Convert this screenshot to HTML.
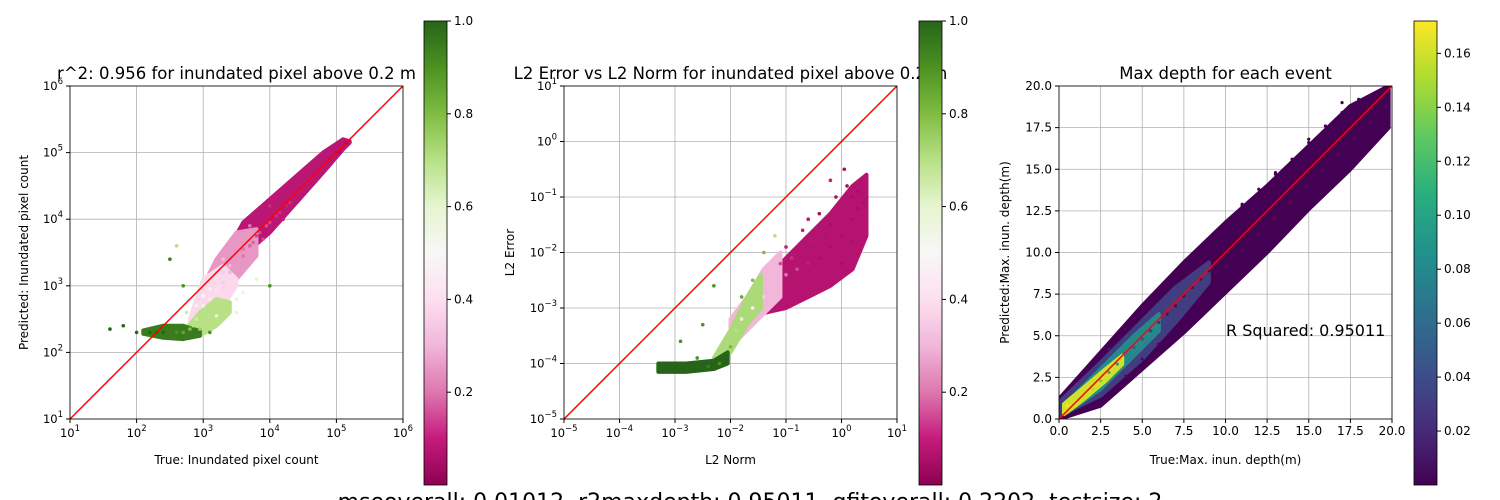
<!DOCTYPE html>
<html><head><meta charset="utf-8"><style>
html,body{margin:0;padding:0;background:#fff;}
svg{display:block;font-family:"DejaVu Sans","Liberation Sans",sans-serif;}
</style></head><body>
<svg id="fig" width="1500" height="500" viewBox="0 0 1500 500" xmlns="http://www.w3.org/2000/svg">
<defs>
<linearGradient id="piyg" x1="0" y1="1" x2="0" y2="0">
<stop offset="0" stop-color="#8e0152"/><stop offset="0.1" stop-color="#c51b7d"/><stop offset="0.2" stop-color="#de77ae"/><stop offset="0.3" stop-color="#f1b6da"/><stop offset="0.4" stop-color="#fde0ef"/><stop offset="0.5" stop-color="#f7f7f7"/><stop offset="0.6" stop-color="#e6f5d0"/><stop offset="0.7" stop-color="#b8e186"/><stop offset="0.8" stop-color="#7fbc41"/><stop offset="0.9" stop-color="#4d9221"/><stop offset="1" stop-color="#276419"/>
</linearGradient>
<linearGradient id="viridis" x1="0" y1="1" x2="0" y2="0">
<stop offset="0" stop-color="#440154"/><stop offset="0.125" stop-color="#472d7b"/><stop offset="0.25" stop-color="#3b528b"/><stop offset="0.375" stop-color="#2c728e"/><stop offset="0.5" stop-color="#21918c"/><stop offset="0.625" stop-color="#28ae80"/><stop offset="0.75" stop-color="#5ec962"/><stop offset="0.875" stop-color="#addc30"/><stop offset="1" stop-color="#fde725"/>
</linearGradient>
<clipPath id="c1"><rect x="70" y="86" width="333" height="333"/></clipPath>
<clipPath id="c2"><rect x="564" y="86" width="333" height="333"/></clipPath>
<clipPath id="c3"><rect x="1059" y="86" width="333" height="333"/></clipPath>
</defs>
<g id="root"></g>
<text x="750" y="509" font-size="22" text-anchor="middle">mseoverall: 0.01012, r2maxdepth: 0.95011, gfitoverall: 0.2202, testsize: 2</text>
</svg>
<script>
// Panel 1 scattered points: log10 true, log10 pred, color value
const p1x=[5.15,5.05,5.0,4.9,4.85,4.75,4.7,4.6,4.55,4.45,4.4,4.3,4.25,4.15,4.1,4.0,3.95,3.85,3.8,3.75,3.7,3.6,3.6,3.5,3.5,3.4,3.4,3.3,3.3,3.2,3.2,3.1,3.1,3.0,3.0,2.9,2.95,2.85,2.8,2.7,2.6,2.5,2.4,2.3,2.2,3.05,3.2,3.7,4.0,3.5,4.2,4.5,3.3,3.9,2.5,2.7,3.1,4.0,3.5,3.6,2.9,2.75,1.6,1.8,2.0,2.6,3.8,3.5];
const p1y=[5.15,5.0,5.0,4.92,4.85,4.72,4.7,4.6,4.55,4.42,4.4,4.25,4.2,4.1,4.05,3.95,3.9,3.8,3.75,3.65,3.6,3.55,3.45,3.4,3.3,3.3,3.2,3.2,3.05,3.1,2.95,2.95,2.8,2.85,2.7,2.5,2.35,2.4,2.35,2.3,2.3,2.3,2.3,2.3,2.3,2.4,2.55,3.9,4.2,3.7,4.0,4.4,3.4,3.7,3.4,3.0,2.3,3.0,2.8,2.9,2.7,2.6,2.35,2.4,2.3,3.6,3.1,2.6];
const p1c=[0.05,0.05,0.05,0.06,0.08,0.08,0.08,0.1,0.1,0.1,0.1,0.12,0.1,0.12,0.12,0.14,0.15,0.15,0.15,0.18,0.18,0.2,0.2,0.25,0.25,0.3,0.3,0.35,0.35,0.4,0.4,0.45,0.45,0.5,0.55,0.65,0.75,0.7,0.8,0.85,0.9,0.95,1,1,1,0.7,0.6,0.2,0.12,0.25,0.1,0.08,0.3,0.15,0.95,0.9,0.9,0.9,0.6,0.45,0.55,0.65,1,1,1,0.7,0.6,0.6];
// Panel 1 dense clouds: x samples, lower/upper y, color value
const b1x=[[3.3,3.6,4.0,4.4,4.8,5.1,5.2],[2.9,3.2,3.5,3.8],[2.8,3.0,3.3,3.5],[2.7,2.95,3.2,3.4],[2.1,2.4,2.7,2.95]];
const b1lo=[[3.35,3.45,3.8,4.25,4.7,5.05,5.15],[2.75,2.85,3.1,3.45],[2.45,2.5,2.7,3.0],[2.25,2.25,2.4,2.6],[2.28,2.22,2.2,2.25]];
const b1hi=[[3.4,3.95,4.3,4.65,5.0,5.2,5.17],[2.8,3.4,3.8,3.85],[2.5,3.1,3.3,3.1],[2.3,2.6,2.8,2.75],[2.33,2.4,2.4,2.32]];
const b1c=[0.08,0.25,0.38,0.7,0.95];
// Panel 2 scattered points
const p2x=[-3.3,-3.0,-2.7,-2.4,-2.2,-2.0,-1.9,-1.8,-1.6,-1.4,-1.2,-1.0,-0.8,-0.6,-0.4,-0.2,0.0,0.2,0.3,-1.0,-0.7,-0.4,-0.1,0.1,0.2,-0.2,-0.5,0.0,0.2,0.05,-0.2,-1.6,-1.4,-1.2,-1.8,-2.5,-2.3,-0.9,-0.3,0.3,0.4,-0.6,-1.1,-2.9,-2.6];
const p2y=[-4.1,-4.1,-4.1,-4.05,-4.0,-3.7,-3.4,-3.2,-3.0,-2.8,-2.6,-2.4,-2.3,-2.2,-2.1,-1.9,-1.7,-1.4,-1.2,-1.9,-1.6,-1.3,-1.0,-0.8,-1.0,-1.5,-1.8,-2.2,-1.8,-0.5,-0.7,-2.5,-2.0,-1.7,-2.8,-3.3,-2.6,-2.1,-1.7,-0.9,-1.1,-1.4,-2.2,-3.6,-3.9];
const p2c=[1,1,1,0.95,0.9,0.8,0.7,0.6,0.45,0.35,0.3,0.2,0.15,0.1,0.05,0.05,0.05,0.05,0.05,0.1,0.1,0.05,0.05,0.05,0.05,0.05,0.08,0.05,0.05,0.05,0.1,0.8,0.8,0.7,0.85,0.9,0.9,0.12,0.06,0.05,0.05,0.08,0.15,0.9,0.9];
// Panel 2 dense clouds
const b2x=[[-1.45,-1.0,-0.6,-0.2,0.2,0.45],[-2.0,-1.7,-1.4,-1.1],[-2.3,-2.0,-1.7,-1.45],[-3.3,-2.8,-2.3,-2.05]];
const b2lo=[[-3.1,-3.0,-2.8,-2.6,-2.3,-1.7],[-3.7,-3.4,-3.1,-2.8],[-4.1,-3.8,-3.3,-3.0],[-4.15,-4.15,-4.1,-4.0]];
const b2hi=[[-2.6,-2.1,-1.7,-1.3,-0.8,-0.6],[-3.2,-2.8,-2.3,-2.0],[-3.9,-3.4,-2.8,-2.4],[-4.0,-4.0,-3.95,-3.8]];
const b2c=[0.07,0.3,0.72,1];
// Panel 3 scattered points
const p3x=[0.5,1,1.5,2,2.5,3,3.5,4,4.5,5,5.5,6,6.5,7,7.5,8,8.5,9,9.5,10,10.5,11,11.5,12,12.5,13,13.5,14,14.5,15,15.5,16,16.5,17,17.5,18,18.5,19,19.5,3,4,5,6,7,8,9,10,11,12,13,14,15,16,17,18,4,5,6,7,8,9,10,11,12,13,14,15,16,17,18,19,11,13,15,17,19,12,14,16,18];
const p3y=[0.8,1,1.4,1.8,2.3,2.8,3.3,3.8,4.3,4.8,5.3,5.8,6.3,6.8,7.4,7.9,8.4,8.9,9.4,9.9,10.4,10.9,11.4,11.9,12.4,12.9,13.4,13.9,14.4,14.9,15.4,15.9,16.4,16.9,17.4,17.9,18.4,18.9,19.3,4.2,5.4,6.4,7.6,8.7,9.8,10.8,11.8,12.9,13.8,14.7,15.6,16.6,17.6,18.4,19.2,2.6,3.6,4.5,5.5,6.4,7.2,8.2,9.2,10.0,11.0,12.0,13.0,14.2,15.4,16.2,17.4,12.8,14.8,16.8,19.0,17.5,10.0,12.2,14.0,16.0];
const p3c=[0.17,0.17,0.16,0.15,0.13,0.11,0.09,0.07,0.05,0.04,0.03,0.02,0.01,0.005,0.004,0.003,0.002,0.002,0.001,0.001,0.001,0,0,0,0,0,0,0,0,0,0,0,0,0,0,0,0,0,0,0.01,0.005,0.002,0,0,0,0,0,0,0,0,0,0,0,0,0,0.01,0.005,0.002,0,0,0,0,0,0,0,0,0,0,0,0,0,0,0,0,0,0,0,0,0,0];
// Panel 3 dense clouds
const b3x=[[0,2.5,5,7.5,10,12.5,15,17.5,19.8],[0,2.5,5,7,9],[0.5,2.5,4.5,6],[0.3,1.5,2.8,3.8]];
const b3lo=[[0,0.8,3.0,5.2,7.6,10,12.6,15,17.5],[0.2,1.4,3.6,5.8,8.2],[0.4,1.8,3.8,5.3],[0.3,1.2,2.3,3.3]];
const b3hi=[[1.2,4,6.8,9.4,11.8,14,16.4,18.8,20],[1,3.4,5.9,7.9,9.4],[1,3,5,6.3],[0.9,1.9,3,3.8]];
const b3c=[0.0,0.03,0.08,0.16];
const logTicks=[-5,-4,-3,-2,-1,0,1,2,3,4,5,6];
const linTicks=[0,2.5,5,7.5,10,12.5,15,17.5,20];
const piygTicks=[0.2,0.4,0.6,0.8,1.0];
const virTicks=[0.02,0.04,0.06,0.08,0.10,0.12,0.14,0.16];

const NS="http://www.w3.org/2000/svg";
const root=document.getElementById('root');
function mk(tag,attrs,parent,txt){const e=document.createElementNS(NS,tag);for(const k in attrs)e.setAttribute(k,attrs[k]);if(txt!==undefined)e.textContent=txt;(parent||root).appendChild(e);return e;}
function lerpCol(stops,t){t=Math.max(0,Math.min(1,t));const n=stops.length-1;const i=Math.min(n-1,Math.floor(t*n));const f=t*n-i;const a=stops[i],b=stops[i+1];const h=s=>[parseInt(s.slice(1,3),16),parseInt(s.slice(3,5),16),parseInt(s.slice(5,7),16)];const A=h(a),B=h(b);return 'rgb('+A.map((v,k)=>Math.round(v+(B[k]-v)*f)).join(',')+')';}
const PIYG=["#8e0152","#c51b7d","#de77ae","#f1b6da","#fde0ef","#f7f7f7","#e6f5d0","#b8e186","#7fbc41","#4d9221","#276419"];
const VIR=["#440154","#472d7b","#3b528b","#2c728e","#21918c","#28ae80","#5ec962","#addc30","#fde725"];

function panel(o){
  const g=mk('g',{});
  
  
  const L=o.x0,T=86,W=333,H=333;
  const sx=v=>L+(v-o.min)/(o.max-o.min)*W, sy=v=>T+H-(v-o.min)/(o.max-o.min)*H;
  mk('rect',{x:L,y:T,width:W,height:H,fill:'#fff'},g);
  const grid=mk('g',{stroke:'#b0b0b0','stroke-width':0.8},g);
  
  
  const ticks=o.ticks.filter(v=>v>=o.min-1e-9&&v<=o.max+1e-9);
  ticks.forEach(v=>{mk('line',{x1:sx(v),x2:sx(v),y1:T,y2:T+H},grid);mk('line',{x1:L,x2:L+W,y1:sy(v),y2:sy(v)},grid);});
  const pts=mk('g',{'clip-path':'url(#'+o.clip+')'},g);
  
  
  o.bx.forEach((xs,k)=>{
    const up=xs.map((x,i)=>sx(x)+','+sy(o.bhi[k][i]));
    const dn=xs.map((x,i)=>sx(x)+','+sy(o.blo[k][i])).reverse();
    const col=o.col(o.bc[k]);
    const p=mk('polygon',{points:up.concat(dn).join(' '),fill:col,stroke:col,'stroke-width':4,'stroke-linejoin':'round'},pts);
    
    
  });
  o.xs.forEach((x,i)=>{const c=mk('circle',{cx:sx(x),cy:sy(o.ys[i]),r:o.r,fill:o.col(o.cs[i])},pts);
    
    });
  const ln=mk('line',{x1:sx(o.min),y1:sy(o.min),x2:sx(o.max),y2:sy(o.max),stroke:'#ff0000','stroke-width':1.5,'clip-path':'url(#'+o.clip+')'},g);
  
  
  mk('rect',{x:L,y:T,width:W,height:H,fill:'none',stroke:'#000','stroke-width':0.8},g);
  ticks.forEach(v=>{
    mk('line',{x1:sx(v),x2:sx(v),y1:T+H,y2:T+H+4,stroke:'#000'},g);
    mk('line',{x1:L-4,x2:L,y1:sy(v),y2:sy(v),stroke:'#000'},g);
    if(o.log){
      const t=mk('text',{x:sx(v),y:T+H+18,'font-size':11.5,'text-anchor':'middle'},g);
      
      mk('tspan',{},t,'10');mk('tspan',{dy:-6,'font-size':8.5},t,String(v).replace('-','−'));
      const u=mk('text',{x:L-7,y:sy(v)+4,'font-size':11.5,'text-anchor':'end'},g);
      
      mk('tspan',{},u,'10');mk('tspan',{dy:-6,'font-size':8.5},u,String(v).replace('-','−'));
    }else{
      const t=mk('text',{x:sx(v),y:T+H+16,'font-size':12,'text-anchor':'middle'},g,v.toFixed(1));
      
      const u=mk('text',{x:L-7,y:sy(v)+4,'font-size':12,'text-anchor':'end'},g,v.toFixed(1));
      
    }
  });
  const tt=mk('text',{x:L+W/2,y:T-7,'font-size':16.5,'text-anchor':'middle'},g,o.title);
  
  const xl=mk('text',{x:L+W/2,y:T+H+45,'font-size':12,'text-anchor':'middle'},g,o.xl);
  
  const yl=mk('text',{x:0,y:0,'font-size':12,'text-anchor':'middle',transform:'translate('+(L-o.ylOff)+','+(T+H/2)+') rotate(-90)'},g,o.yl);
  
  const cb=mk('g',{},g);
  
  const cx=o.cbx,cT=21,cB=485;
  mk('rect',{x:cx,y:cT,width:23,height:cB-cT,fill:'url(#'+o.grad+')',stroke:'#000','stroke-width':0.8},cb);
  const cy=v=>cB-(v-o.cmin)/(o.cmax-o.cmin)*(cB-cT);
  o.cticks.forEach(v=>{mk('line',{x1:cx+23,x2:cx+27,y1:cy(v),y2:cy(v),stroke:'#000'},cb);
    const t=mk('text',{x:cx+30,y:cy(v)+4,'font-size':12},cb,o.cfmt(v));
    });
  return {g,sx,sy};
}
panel({name:'panel-pixel-count',x0:70,min:1,max:6,log:true,ticks:logTicks,clip:'c1',xs:p1x,ys:p1y,cs:p1c,r:1.8,col:v=>lerpCol(PIYG,v),
  bx:b1x,blo:b1lo,bhi:b1hi,bc:b1c,
  title:'r^2: 0.956 for inundated pixel above 0.2 m',xl:'True: Inundated pixel count',yl:'Predicted: Inundated pixel count',ylOff:42,
  cbx:424,grad:'piyg',cmin:0,cmax:1,cticks:piygTicks,cfmt:v=>v.toFixed(1)});
panel({name:'panel-l2-error',x0:564,min:-5,max:1,log:true,ticks:logTicks,clip:'c2',xs:p2x,ys:p2y,cs:p2c,r:1.8,col:v=>lerpCol(PIYG,v),
  bx:b2x,blo:b2lo,bhi:b2hi,bc:b2c,
  title:'L2 Error vs L2 Norm for inundated pixel above 0.2 m',xl:'L2 Norm',yl:'L2 Error',ylOff:50,
  cbx:919,grad:'piyg',cmin:0,cmax:1,cticks:piygTicks,cfmt:v=>v.toFixed(1)});
const p3=panel({name:'panel-max-depth',x0:1059,min:0,max:20,log:false,ticks:linTicks,clip:'c3',xs:p3x,ys:p3y,cs:p3c,r:1.6,col:v=>lerpCol(VIR,v/0.172),
  bx:b3x,blo:b3lo,bhi:b3hi,bc:b3c,
  title:'Max depth for each event',xl:'True:Max. inun. depth(m)',yl:'Predicted:Max. inun. depth(m)',ylOff:50,
  cbx:1414,grad:'viridis',cmin:0,cmax:0.172,cticks:virTicks,cfmt:v=>v.toFixed(2)});
const rs=mk('text',{x:1226,y:336,'font-size':16},p3.g,'R Squared: 0.95011');

</script>
</body></html>
